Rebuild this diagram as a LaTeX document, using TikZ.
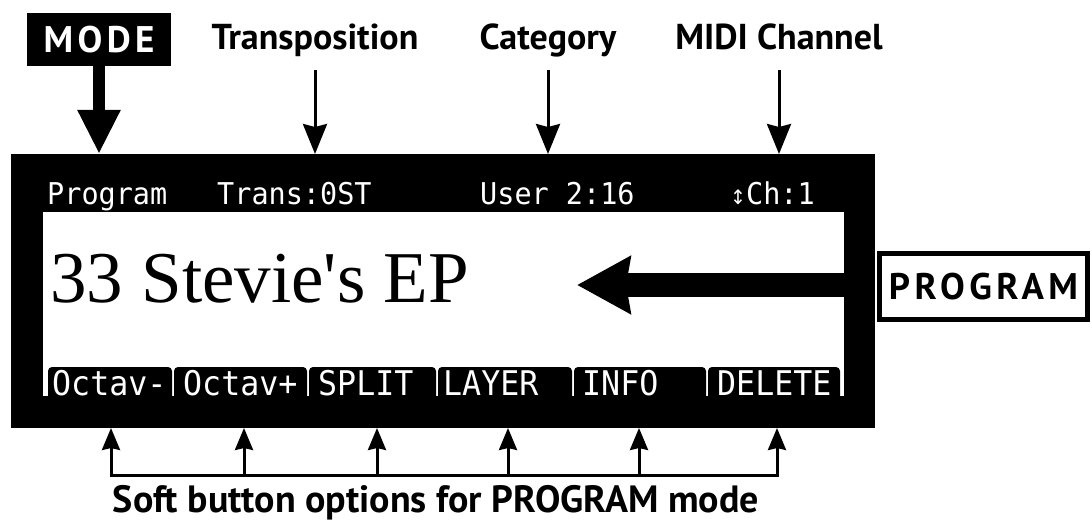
\documentclass[tikz,border=0pt]{standalone}
\usepackage{fontspec}
\usepackage{tikz}
\usetikzlibrary{arrows.meta,positioning}
\newfontfamily\hdfont{PT Sans}
\newfontfamily\lcdfont{DejaVu Sans Mono}
\newfontfamily\symfont{DejaVu Sans}
\newfontfamily\namefont{Liberation Serif}

\begin{document}
\begin{tikzpicture}[x=1pt, y=-1pt,
  hdr/.style={font=\hdfont\bfseries\fontsize{36}{36}\selectfont, inner sep=0pt, anchor=base},
  keybox/.style={inner sep=0pt, font=\hdfont\bfseries\fontsize{37}{37}\selectfont\addfontfeature{LetterSpace=12}},
  lcdtxt/.style={font=\lcdfont\fontsize{30}{30}\selectfont, text=white, inner sep=0pt, anchor=base west},
  softtxt/.style={font=\lcdfont\fontsize{34}{34}\selectfont, text=white, inner sep=0pt, anchor=base west},
  thinarr/.style={line width=3pt, -{Stealth[length=30pt, width=24pt, inset=3pt]}},
  busarr/.style={line width=3pt, -{Stealth[length=22pt, width=18pt, inset=2pt]}},
  bigarr/.style={line width=24pt, -{Stealth[length=53pt, width=56pt, inset=4pt]}},
  modearr/.style={line width=12pt, -{Triangle[length=44pt, width=40pt]}}
]
\useasboundingbox (0,0) rectangle (1092,521);

% labels above the display
\node[keybox, fill=black, text=white, minimum width=144pt, minimum height=53pt] (mode) at (99,39.5) {MODE};
\node[hdr] (trans) at (315,50) {Transposition};
\node[hdr] (cat) at (548,50) {Category};
\node[hdr] (midi) at (779,50) {MIDI Channel};

% the display
\node[fill=black, minimum width=864pt, minimum height=274pt, inner sep=0pt, anchor=north west] (lcd) at (11,154) {};
\node[fill=white, minimum width=801pt, minimum height=184pt, inner sep=0pt, anchor=north west] (win) at (43,212) {};
\foreach \a/\b in {48/172, 174/307, 309/436, 438/572, 574/706, 708/840}
  \fill[black, rounded corners=4pt] (\a,367) rectangle (\b,404);

\node[lcdtxt] (pgm) at (47,205) {\scalebox{0.95}[1]{Program}};
\node[lcdtxt] (trn) at (217,205) {\scalebox{0.95}[1]{Trans:0ST}};
\node[lcdtxt] (usr) at (480,205) {\scalebox{0.95}[1]{User 2:16}};
\node[lcdtxt] (chn) at (730,205) {\scalebox{0.95}[1]{{\symfont\fontsize{20}{20}\selectfont ↕}Ch:1}};
\node[font=\namefont\fontsize{73}{73}\selectfont, inner sep=0pt, anchor=base west] (name) at (50,302) {33 Stevie's EP};

\node[softtxt] (sk1) at (52,395) {\scalebox{0.93}[1]{Octav-}};
\node[softtxt] (sk2) at (183,395) {\scalebox{0.93}[1]{Octav+}};
\node[softtxt] (sk3) at (318,395) {\scalebox{0.93}[1]{SPLIT}};
\node[softtxt] (sk4) at (443,395) {\scalebox{0.93}[1]{LAYER}};
\node[softtxt] (sk5) at (582,395) {\scalebox{0.93}[1]{INFO}};
\node[softtxt] (sk6) at (717,395) {\scalebox{0.93}[1]{DELETE}};

\node[keybox, draw, line width=5pt, minimum width=208pt, minimum height=66pt] (prog) at (983.5,286.5) {PROGRAM};
\coordinate (progtip) at (577,285);

\draw[modearr] (mode.south) -- (mode.south |- lcd.north);
\draw[thinarr] ([yshift=-20pt]trans.base) -- (trans.base |- lcd.north);
\draw[thinarr] ([yshift=-20pt]cat.base) -- (cat.base |- lcd.north);
\draw[thinarr] ([yshift=-20pt]midi.base) -- (midi.base |- lcd.north);
\draw[bigarr] (win.east |- progtip) -- (progtip);

% soft buttons
\foreach \x [count=\i] in {111,244,377,508,639,777} {
  \coordinate (up\i) at (\x,428);
  \coordinate (bus\i) at (\x,475);
  \draw[busarr] (bus\i) -- (up\i);
}
\draw[line width=3pt, line cap=rect] (bus1) -- (bus6);
\node[hdr, font=\hdfont\bfseries\fontsize{38}{38}\selectfont] (soft) at (436,512) {Soft button options for PROGRAM mode};
\end{tikzpicture}
\end{document}
